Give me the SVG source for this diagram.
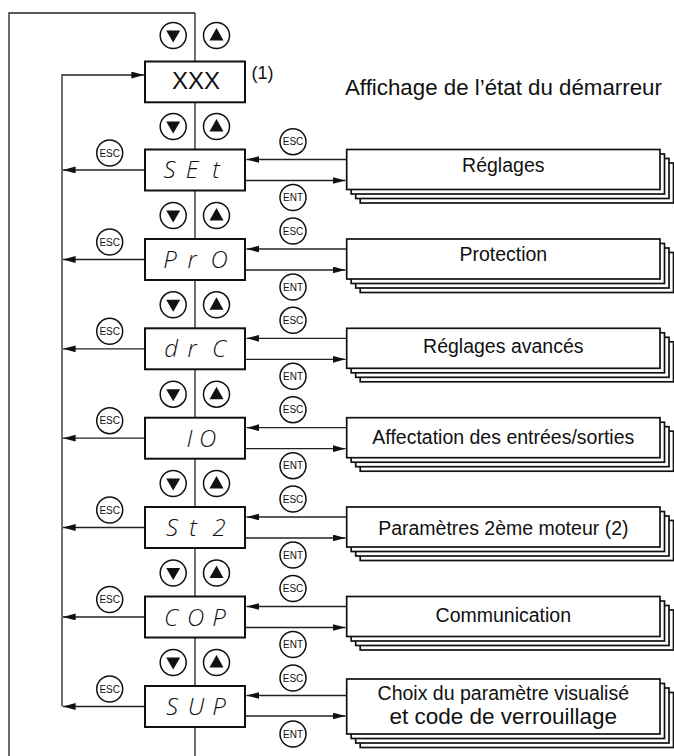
<svg xmlns="http://www.w3.org/2000/svg" width="674" height="756" viewBox="0 0 674 756">
<defs>
<marker id="ah" markerUnits="userSpaceOnUse" markerWidth="13" markerHeight="7" refX="12.6" refY="3.4" orient="auto">
<path d="M0,0 L12.6,3.4 L0,6.8 z" fill="#111"/>
</marker>
<g id="dn"><circle r="13" class="btn"/><path d="M-7,-5 L7,-5 L0,7 z" fill="#111"/></g>
<g id="up"><circle r="13" class="btn"/><path d="M0,-7.5 L7,5 L-7,5 z" fill="#111"/></g>
<g id="stack">
<rect x="13.5" y="13.5" width="313.3" height="40" class="sb"/>
<rect x="9" y="9" width="313.3" height="40" class="sb"/>
<rect x="4.5" y="4.5" width="313.3" height="40" class="sb"/>
<rect x="0" y="0" width="313.3" height="40" class="sb"/>
</g>
<g id="stack2">
<rect x="13.5" y="13.5" width="313.3" height="55" class="sb"/>
<rect x="9" y="9" width="313.3" height="55" class="sb"/>
<rect x="4.5" y="4.5" width="313.3" height="55" class="sb"/>
<rect x="0" y="0" width="313.3" height="55" class="sb"/>
</g>
</defs>
<style>
.ln{fill:none;stroke:#222;stroke-width:1.3}
.ar{fill:none;stroke:#222;stroke-width:1.3;marker-end:url(#ah)}
.btn{fill:#fff;stroke:#111;stroke-width:1.5}
.db{fill:#fff;stroke:#111;stroke-width:2}
.sb{fill:#fff;stroke:#111;stroke-width:1.7}
.small{font-family:"Liberation Sans",Arial,sans-serif;font-size:10px;text-anchor:middle;fill:#111}
.seg{font-family:"Open Sans","Liberation Sans",sans-serif;font-size:24px;font-weight:300;font-style:italic;text-anchor:middle;fill:#111}
.lab{font-family:"Liberation Sans",Arial,sans-serif;font-size:19.5px;text-anchor:middle;fill:#111}
.t{font-family:"Liberation Sans",Arial,sans-serif;fill:#111}
</style>
<rect width="674" height="756" fill="#fff"/>

<g id="connectors">
<polyline class="ln" points="9,756 9,13 195,13"/>
<line class="ln" x1="195" y1="13" x2="195" y2="756"/>
<polyline class="ar" points="62,706.5 62,75 144,75"/>
<line class="ar" x1="145" y1="170" x2="63" y2="170"/>
<line class="ar" x1="145" y1="259.5" x2="63" y2="259.5"/>
<line class="ar" x1="145" y1="348.8" x2="63" y2="348.8"/>
<line class="ar" x1="145" y1="438.2" x2="63" y2="438.2"/>
<line class="ar" x1="145" y1="527.5" x2="63" y2="527.5"/>
<line class="ar" x1="145" y1="617" x2="63" y2="617"/>
<line class="ar" x1="145" y1="706.5" x2="63" y2="706.5"/>
<line class="ar" x1="346.7" y1="159.5" x2="246.5" y2="159.5"/>
<line class="ar" x1="346.7" y1="249" x2="246.5" y2="249"/>
<line class="ar" x1="346.7" y1="338.3" x2="246.5" y2="338.3"/>
<line class="ar" x1="346.7" y1="427.7" x2="246.5" y2="427.7"/>
<line class="ar" x1="346.7" y1="517" x2="246.5" y2="517"/>
<line class="ar" x1="346.7" y1="606.5" x2="246.5" y2="606.5"/>
<line class="ar" x1="346.7" y1="695.5" x2="246.5" y2="695.5"/>
<line class="ar" x1="245" y1="180.5" x2="345.5" y2="180.5"/>
<line class="ar" x1="245" y1="270" x2="345.5" y2="270"/>
<line class="ar" x1="245" y1="359.3" x2="345.5" y2="359.3"/>
<line class="ar" x1="245" y1="448.7" x2="345.5" y2="448.7"/>
<line class="ar" x1="245" y1="538" x2="345.5" y2="538"/>
<line class="ar" x1="245" y1="627.5" x2="345.5" y2="627.5"/>
<line class="ar" x1="245" y1="716" x2="345.5" y2="716"/>
</g>

<g id="buttons">
<use href="#dn" x="173.2" y="35.5"/><use href="#up" x="216.5" y="35.5"/>
<use href="#dn" x="173.2" y="126.5"/><use href="#up" x="216.5" y="126.5"/>
<use href="#dn" x="173.2" y="215.5"/><use href="#up" x="216.5" y="215.5"/>
<use href="#dn" x="173.2" y="304.8"/><use href="#up" x="216.5" y="304.8"/>
<use href="#dn" x="173.2" y="394.2"/><use href="#up" x="216.5" y="394.2"/>
<use href="#dn" x="173.2" y="483.5"/><use href="#up" x="216.5" y="483.5"/>
<use href="#dn" x="173.2" y="573"/><use href="#up" x="216.5" y="573"/>
<use href="#dn" x="173.2" y="662.5"/><use href="#up" x="216.5" y="662.5"/>
</g>

<g id="keys">
<circle class="btn" cx="109.7" cy="153" r="13"/><text class="small" x="109.7" y="156.6">ESC</text>
<circle class="btn" cx="109.7" cy="242" r="13"/><text class="small" x="109.7" y="245.6">ESC</text>
<circle class="btn" cx="109.7" cy="331.3" r="13"/><text class="small" x="109.7" y="334.9">ESC</text>
<circle class="btn" cx="109.7" cy="420.7" r="13"/><text class="small" x="109.7" y="424.3">ESC</text>
<circle class="btn" cx="109.7" cy="510" r="13"/><text class="small" x="109.7" y="513.6">ESC</text>
<circle class="btn" cx="109.7" cy="599.5" r="13"/><text class="small" x="109.7" y="603.1">ESC</text>
<circle class="btn" cx="109.7" cy="689" r="13"/><text class="small" x="109.7" y="692.6">ESC</text>

<circle class="btn" cx="293" cy="141.7" r="13"/><text class="small" x="293" y="145.3">ESC</text>
<circle class="btn" cx="293" cy="231" r="13"/><text class="small" x="293" y="234.6">ESC</text>
<circle class="btn" cx="293" cy="320.3" r="13"/><text class="small" x="293" y="323.9">ESC</text>
<circle class="btn" cx="293" cy="409.7" r="13"/><text class="small" x="293" y="413.3">ESC</text>
<circle class="btn" cx="293" cy="499" r="13"/><text class="small" x="293" y="502.6">ESC</text>
<circle class="btn" cx="293" cy="588.5" r="13"/><text class="small" x="293" y="592.1">ESC</text>
<circle class="btn" cx="293" cy="678" r="13"/><text class="small" x="293" y="681.6">ESC</text>

<circle class="btn" cx="293" cy="197.5" r="13"/><text class="small" x="293" y="201.1">ENT</text>
<circle class="btn" cx="293" cy="287" r="13"/><text class="small" x="293" y="290.6">ENT</text>
<circle class="btn" cx="293" cy="376.3" r="13"/><text class="small" x="293" y="379.9">ENT</text>
<circle class="btn" cx="293" cy="465.7" r="13"/><text class="small" x="293" y="469.3">ENT</text>
<circle class="btn" cx="293" cy="555" r="13"/><text class="small" x="293" y="558.6">ENT</text>
<circle class="btn" cx="293" cy="644.5" r="13"/><text class="small" x="293" y="648.1">ENT</text>
<circle class="btn" cx="293" cy="734" r="13"/><text class="small" x="293" y="737.6">ENT</text>
</g>

<g id="node-xxx">
<rect class="db" x="145" y="61.5" width="100" height="40.8"/>
<text class="t" x="196" y="89.3" font-size="24" text-anchor="middle">XXX</text>
<text class="t" x="251.5" y="78.5" font-size="18">(1)</text>
</g>
<g id="title"><text class="t" x="345" y="95" font-size="22.3">Affichage de l’état du démarreur</text></g>

<g id="node-set">
<rect class="db" x="145" y="149.5" width="100" height="41"/>
<text class="seg" x="169.5 192 216" y="177.5">SEt</text>
</g>
<g id="node-pro">
<rect class="db" x="145" y="239" width="100" height="41"/>
<text class="seg" x="170 192 219" y="268">PrO</text>
</g>
<g id="node-drc">
<rect class="db" x="145" y="328.3" width="100" height="41"/>
<text class="seg" x="171 192 219" y="357.3">drC</text>
</g>
<g id="node-io">
<rect class="db" x="145" y="417.7" width="100" height="41"/>
<text class="seg" x="189.5 207.5" y="446.7">IO</text>
</g>
<g id="node-st2">
<rect class="db" x="145" y="507" width="100" height="41"/>
<text class="seg" x="172 193 219" y="536">St2</text>
</g>
<g id="node-cop">
<rect class="db" x="145" y="596.5" width="100" height="41"/>
<text class="seg" x="171 195.5 219" y="625.5">COP</text>
</g>
<g id="node-sup">
<rect class="db" x="145" y="686" width="100" height="41"/>
<text class="seg" x="172 196 219" y="715">SUP</text>
</g>

<g id="menu-reglages"><use href="#stack" x="346.7" y="149.5"/><text class="lab" x="503.3" y="171.5">Réglages</text></g>
<g id="menu-protection"><use href="#stack" x="346.7" y="239"/><text class="lab" x="503.3" y="261">Protection</text></g>
<g id="menu-avances"><use href="#stack" x="346.7" y="328.3"/><text class="lab" x="503.3" y="353.3">Réglages avancés</text></g>
<g id="menu-affectation"><use href="#stack" x="346.7" y="417.7"/><text class="lab" x="503.3" y="443.5">Affectation des entrées/sorties</text></g>
<g id="menu-moteur2"><use href="#stack" x="346.7" y="507"/><text class="lab" x="503.3" y="535">Paramètres 2ème moteur (2)</text></g>
<g id="menu-communication"><use href="#stack" x="346.7" y="596.5"/><text class="lab" x="503.3" y="621.5">Communication</text></g>
<g id="menu-sup"><use href="#stack2" x="346.7" y="679"/>
<text class="lab" x="503.3" y="700" font-size="19.2">Choix du paramètre visualisé</text>
<text class="lab" x="503.3" y="723.5" style="font-size:22.5px">et code de verrouillage</text>
</g>
</svg>
